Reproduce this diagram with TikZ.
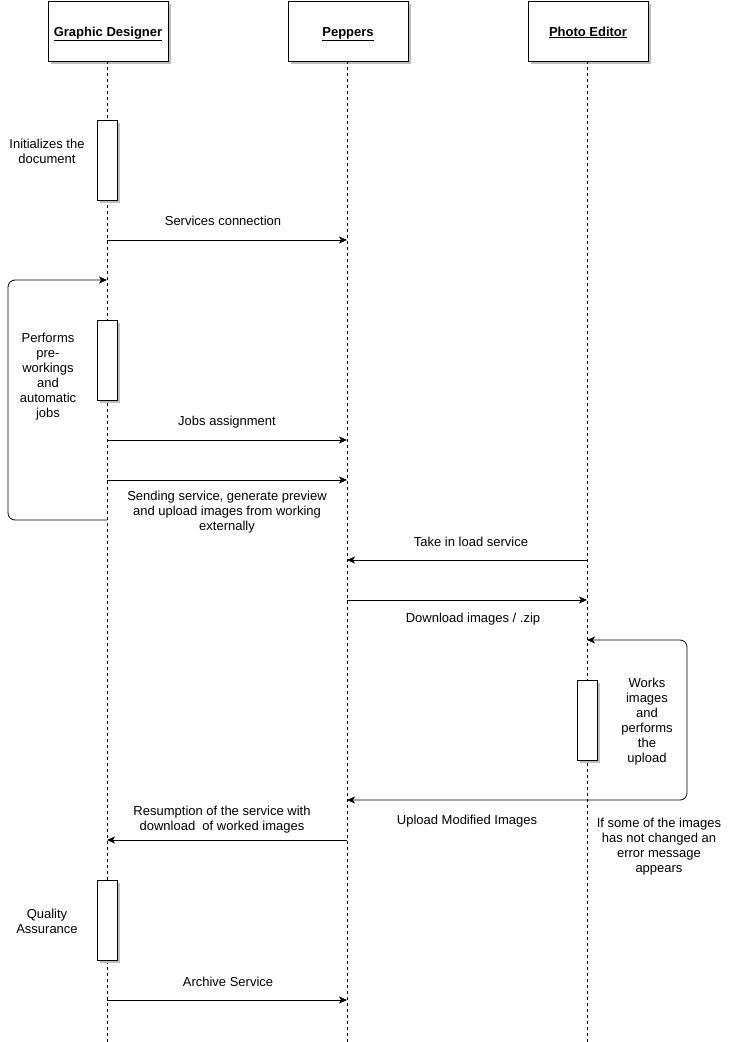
\documentclass[tikz,border=0pt]{standalone}
\usepackage{fontspec}
\setmainfont{Liberation Sans}
\usetikzlibrary{arrows.meta,shadows}
\begin{document}
\begin{tikzpicture}[x=1pt,y=-1pt,
  font=\fontsize{13}{15}\selectfont,
  shadowed/.style={drop shadow={shadow xshift=3pt,shadow yshift=-3pt,fill=black!25,opacity=1}},
  head/.style={draw,line width=1pt,fill=white,minimum width=120pt,minimum height=60pt,inner sep=0pt,text height=9pt,text depth=3pt,shadowed},
  act/.style={draw,line width=0.8pt,fill=white,minimum width=20pt,minimum height=80pt,inner sep=0pt,shadowed},
  life/.style={line width=0.7pt,dash pattern=on 3pt off 3pt},
  msg/.style={-{Stealth[length=8pt,width=7pt,inset=2pt]},line width=0.8pt},
  lbl/.style={align=center,inner sep=0pt}
]
\useasboundingbox (0,0) rectangle (730,1042);

% lifeline heads
\node[head] (gd) at (108,31) {\raisebox{-2pt}{\underline{\textbf{Graphic Designer}}}};
\node[head] (pp) at (348,31) {\raisebox{-2pt}{\underline{\textbf{Peppers}}}};
\node[head] (pe) at (588,31) {\raisebox{-2pt}{\underline{\textbf{Photo Editor}}}};

\coordinate (gdEnd) at (107,1042);
\coordinate (ppEnd) at (347,1042);
\coordinate (peEnd) at (587,1042);
\draw[life] (107,61) -- (gdEnd);
\draw[life] (347,61) -- (ppEnd);
\draw[life] (587,61) -- (peEnd);

% activations
\node[act] (a1) at (107,160) {};
\node[act] (a2) at (107,360) {};
\node[act] (a3) at (587,720) {};
\node[act] (a4) at (107,920) {};

% coordinates on lifelines
\coordinate (g240) at (107,240);  \coordinate (p240) at (347,240);
\coordinate (g280) at (107,280);
\coordinate (g440) at (107,440);  \coordinate (p440) at (347,440);
\coordinate (g480) at (107,480);  \coordinate (p480) at (347,480);
\coordinate (g520) at (107,520);
\coordinate (p560) at (347,560);  \coordinate (e560) at (587,560);
\coordinate (p600) at (347,600);  \coordinate (e600) at (587,600);
\coordinate (e640) at (587,640);
\coordinate (p800) at (347,800);
\coordinate (p840) at (347,840);  \coordinate (g840) at (107,840);
\coordinate (g1000) at (107,1000); \coordinate (p1000) at (347,1000);
\coordinate (lc1) at (8,520); \coordinate (lc2) at (8,280);
\coordinate (rc1) at (687,640); \coordinate (rc2) at (687,800);

% messages
\draw[msg] (g240) -- (p240);
\draw[msg,rounded corners=7pt] (g520) -- (lc1) -- (lc2) -- (g280);
\draw[msg] (g440) -- (p440);
\draw[msg] (g480) -- (p480);
\draw[msg] (e560) -- (p560);
\draw[msg] (p600) -- (e600);
\draw[{Stealth[length=8pt,width=7pt,inset=2pt]}-{Stealth[length=8pt,width=7pt,inset=2pt]},line width=0.8pt,rounded corners=7pt] (e640) -- (rc1) -- (rc2) -- (p800);
\draw[msg] (p840) -- (g840);
\draw[msg] (g1000) -- (p1000);

% labels
\node[lbl] (t1) at (47,151) {Initializes the\\document};
\node[lbl] (t2) at (223,221) {Services connection};
\node[lbl] (t3) at (48,377) {Performs\\pre-\\workings\\and\\automatic\\jobs};
\node[lbl] (t4) at (227,422) {Jobs assignment};
\node[lbl] (t5) at (227,512) {Sending service, generate preview\\and upload images from working\\externally};
\node[lbl] (t6) at (471,542) {Take in load service};
\node[lbl] (t7) at (473,619) {Download images / .zip};
\node[lbl] (t8) at (647,722) {Works\\images\\and\\performs\\the\\upload};
\node[lbl] (t9) at (467,821) {Upload Modified Images};
\node[lbl] (t10) at (659,847) {If some of the images\\has not changed an\\error message\\appears};
\node[lbl] (t11) at (222,820) {Resumption of the service with\\download\ \ of worked images};
\node[lbl] (t12) at (47,921) {Quality\\Assurance};
\node[lbl] (t13) at (228,982) {Archive Service};
\end{tikzpicture}
\end{document}
